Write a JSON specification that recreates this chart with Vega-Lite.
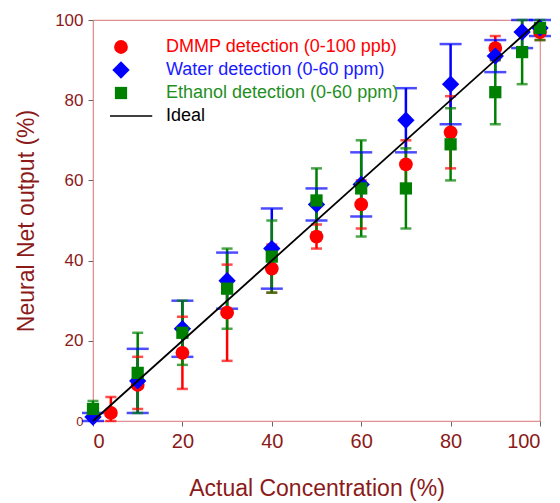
{
  "$schema": "https://vega.github.io/schema/vega-lite/v6.json",
  "autosize": {"type": "none"},
  "padding": {"left": 93, "top": 20, "right": 20, "bottom": 82},
  "width": 447,
  "height": 401,
  "background": "white",
  "config": {
    "view": {"stroke": "#e09090", "strokeWidth": 1.2},
    "font": "Liberation Sans",
    "axis": {"labelFont": "Liberation Sans", "titleFont": "Liberation Sans", "labelColor": "#8b1a1a", "titleColor": "#8b1a1a", "titleFontWeight": "normal", "domainColor": "#e09090", "tickColor": "#666666", "tickSize": 5, "grid": false},
    "axisX": {"labelFontSize": 20, "titleFontSize": 23, "labelPadding": 5, "titlePadding": 26},
    "axisY": {"titleFontSize": 23, "labelPadding": 5, "titlePadding": 16},
    "legend": {"labelFont": "Liberation Sans", "labelFontSize": 18, "padding": 0, "labelLimit": 0, "symbolOpacity": 1}
  },
  "datasets": {
    "pts": [
      {"series": "DMMP detection (0-100 ppb)", "x": 4, "y": 2, "lo": 0, "hi": 6},
      {"series": "DMMP detection (0-100 ppb)", "x": 10, "y": 9, "lo": 3, "hi": 16},
      {"series": "DMMP detection (0-100 ppb)", "x": 20, "y": 17, "lo": 8, "hi": 26},
      {"series": "DMMP detection (0-100 ppb)", "x": 30, "y": 27, "lo": 15, "hi": 39},
      {"series": "DMMP detection (0-100 ppb)", "x": 40, "y": 38, "lo": 32, "hi": 44},
      {"series": "DMMP detection (0-100 ppb)", "x": 50, "y": 46, "lo": 43, "hi": 49},
      {"series": "DMMP detection (0-100 ppb)", "x": 60, "y": 54, "lo": 48, "hi": 60},
      {"series": "DMMP detection (0-100 ppb)", "x": 70, "y": 64, "lo": 58, "hi": 70},
      {"series": "DMMP detection (0-100 ppb)", "x": 80, "y": 72, "lo": 63, "hi": 81},
      {"series": "DMMP detection (0-100 ppb)", "x": 90, "y": 93, "lo": 90, "hi": 96},
      {"series": "DMMP detection (0-100 ppb)", "x": 100, "y": 97, "lo": 95, "hi": 99},
      {"series": "Water detection (0-60 ppm)", "x": 0, "y": 1, "lo": 0, "hi": 2},
      {"series": "Water detection (0-60 ppm)", "x": 10, "y": 10, "lo": 2, "hi": 18},
      {"series": "Water detection (0-60 ppm)", "x": 20, "y": 23, "lo": 16, "hi": 30},
      {"series": "Water detection (0-60 ppm)", "x": 30, "y": 35, "lo": 28, "hi": 42},
      {"series": "Water detection (0-60 ppm)", "x": 40, "y": 43, "lo": 33, "hi": 53},
      {"series": "Water detection (0-60 ppm)", "x": 50, "y": 54, "lo": 50, "hi": 58},
      {"series": "Water detection (0-60 ppm)", "x": 60, "y": 59, "lo": 51, "hi": 67},
      {"series": "Water detection (0-60 ppm)", "x": 70, "y": 75, "lo": 67, "hi": 83},
      {"series": "Water detection (0-60 ppm)", "x": 80, "y": 84, "lo": 74, "hi": 94},
      {"series": "Water detection (0-60 ppm)", "x": 90, "y": 91, "lo": 87, "hi": 95},
      {"series": "Water detection (0-60 ppm)", "x": 96, "y": 97, "lo": 93, "hi": 100},
      {"series": "Water detection (0-60 ppm)", "x": 100, "y": 98, "lo": 96, "hi": 100},
      {"series": "Ethanol detection (0-60 ppm)", "x": 0, "y": 3, "lo": 1, "hi": 5},
      {"series": "Ethanol detection (0-60 ppm)", "x": 10, "y": 12, "lo": 2, "hi": 22},
      {"series": "Ethanol detection (0-60 ppm)", "x": 20, "y": 22, "lo": 14, "hi": 30},
      {"series": "Ethanol detection (0-60 ppm)", "x": 30, "y": 33, "lo": 23, "hi": 43},
      {"series": "Ethanol detection (0-60 ppm)", "x": 40, "y": 41, "lo": 32, "hi": 50},
      {"series": "Ethanol detection (0-60 ppm)", "x": 50, "y": 55, "lo": 47, "hi": 63},
      {"series": "Ethanol detection (0-60 ppm)", "x": 60, "y": 58, "lo": 46, "hi": 70},
      {"series": "Ethanol detection (0-60 ppm)", "x": 70, "y": 58, "lo": 48, "hi": 68},
      {"series": "Ethanol detection (0-60 ppm)", "x": 80, "y": 69, "lo": 60, "hi": 78},
      {"series": "Ethanol detection (0-60 ppm)", "x": 90, "y": 82, "lo": 74, "hi": 90},
      {"series": "Ethanol detection (0-60 ppm)", "x": 96, "y": 92, "lo": 84, "hi": 100},
      {"series": "Ethanol detection (0-60 ppm)", "x": 100, "y": 98, "lo": 95, "hi": 100}
    ],
    "ideal": [
      {"x": 0, "y": 0},
      {"x": 100, "y": 100}
    ]
  },
  "layer": [
    {
      "data": {"name": "pts"},
      "mark": {"type": "rule", "strokeWidth": 2.5},
      "encoding": {
        "x": {"field": "x", "type": "quantitative", "scale": {"domain": [0, 100], "nice": false}, "axis": {"title": "Actual Concentration (%)", "values": [0, 20, 40, 60, 80, 100]}},
        "y": {"field": "lo", "type": "quantitative", "scale": {"domain": [0, 100], "nice": false}, "axis": {"title": "Neural Net output (%)", "values": [0, 20, 40, 60, 80, 100], "labelFontSize": {"condition": {"test": "datum.value == 0", "value": 13}, "value": 17}}},
        "y2": {"field": "hi"},
        "color": {"field": "series", "type": "nominal", "title": null, "scale": {"domain": ["DMMP detection (0-100 ppb)", "Water detection (0-60 ppm)", "Ethanol detection (0-60 ppm)", "Ideal"], "range": ["#ff0000", "#0000ff", "#008000", "#000000"]}}
      }
    },
    {
      "data": {"name": "pts"},
      "mark": {"type": "tick", "orient": "horizontal", "thickness": 2.5},
      "encoding": {
        "x": {"field": "x", "type": "quantitative"},
        "y": {"field": "lo", "type": "quantitative"},
        "color": {"field": "series", "type": "nominal", "title": null},
        "size": {"condition": {"test": "indexof(datum.series, 'Water') >= 0", "value": 22}, "value": 11}
      }
    },
    {
      "data": {"name": "pts"},
      "mark": {"type": "tick", "orient": "horizontal", "thickness": 2.5},
      "encoding": {
        "x": {"field": "x", "type": "quantitative"},
        "y": {"field": "hi", "type": "quantitative"},
        "color": {"field": "series", "type": "nominal", "title": null},
        "size": {"condition": {"test": "indexof(datum.series, 'Water') >= 0", "value": 22}, "value": 11}
      }
    },
    {
      "data": {"name": "pts"},
      "mark": {"type": "point", "filled": true, "opacity": 1},
      "encoding": {
        "x": {"field": "x", "type": "quantitative"},
        "y": {"field": "y", "type": "quantitative"},
        "color": {"field": "series", "type": "nominal", "title": null,
          "legend": {"orient": "none", "legendX": 19, "legendY": 18, "rowPadding": 5, "labelOffset": 36, "symbolStrokeWidth": 0,
            "labelColor": {"expr": "indexof(datum.label, 'DMMP') >= 0 ? '#ff0000' : indexof(datum.label, 'Water') >= 0 ? '#1a1aff' : indexof(datum.label, 'Ethanol') >= 0 ? '#1f8f1f' : '#000000'"}}},
        "shape": {"field": "series", "type": "nominal", "title": null,
          "scale": {"domain": ["DMMP detection (0-100 ppb)", "Water detection (0-60 ppm)", "Ethanol detection (0-60 ppm)", "Ideal"], "range": ["circle", "diamond", "square", "M-1.8,-0.12L5.1,-0.12L5.1,0.12L-1.8,0.12Z"]}},
        "size": {"field": "series", "type": "nominal", "title": null,
          "scale": {"type": "ordinal", "domain": ["DMMP detection (0-100 ppb)", "Water detection (0-60 ppm)", "Ethanol detection (0-60 ppm)", "Ideal"], "range": [190, 300, 150, 150]}}
      }
    },
    {
      "data": {"name": "ideal"},
      "mark": {"type": "line", "color": "#000000", "strokeWidth": 1.8},
      "encoding": {
        "x": {"field": "x", "type": "quantitative"},
        "y": {"field": "y", "type": "quantitative"}
      }
    }
  ]
}
